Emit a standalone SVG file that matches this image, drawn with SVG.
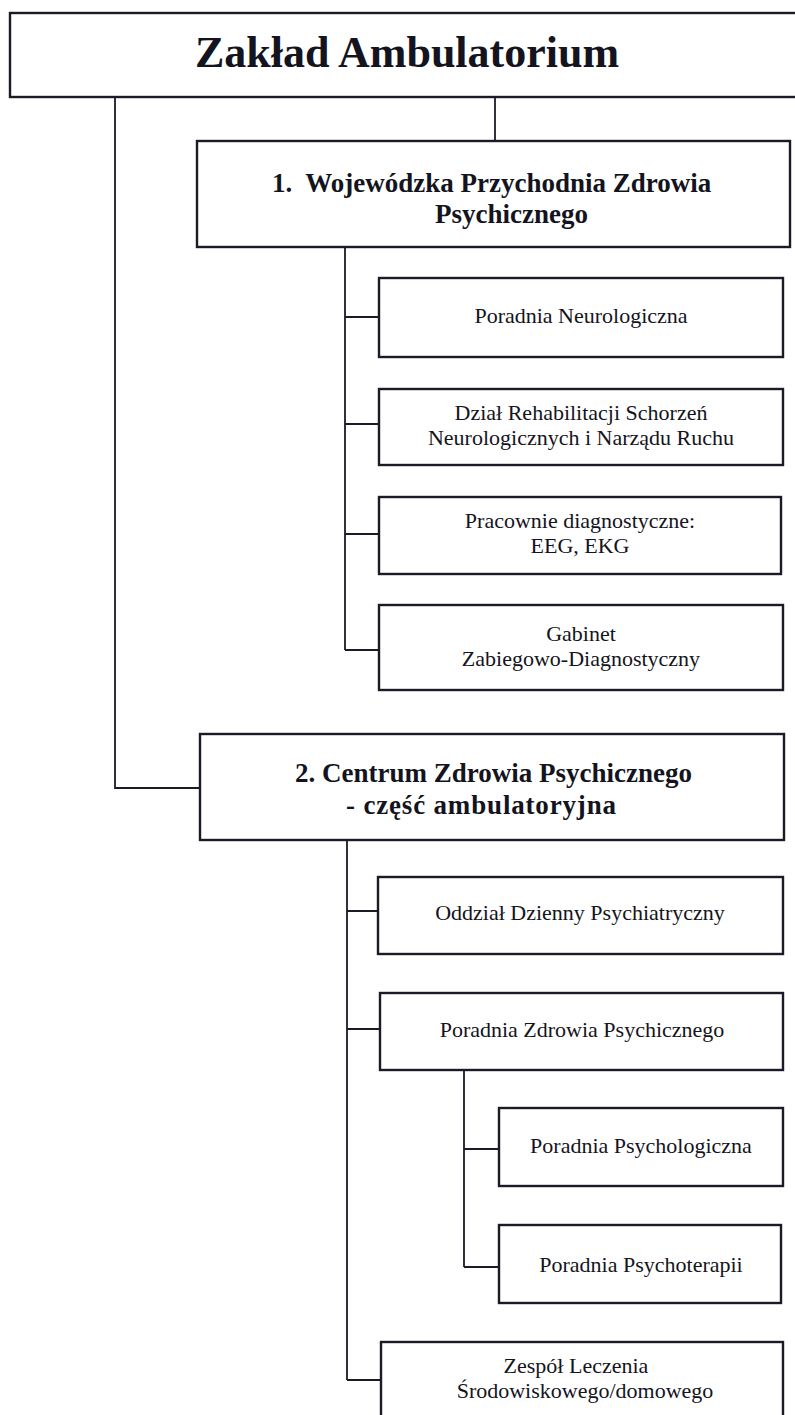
<svg xmlns="http://www.w3.org/2000/svg" width="795" height="1415" viewBox="0 0 795 1415">
<style>
.box{fill:#fff;stroke:#1b1b28;stroke-width:2.4}
.ln{fill:none;stroke:#1b1b28;stroke-width:1.8}
.t{font-family:"Liberation Serif","Times New Roman",serif;fill:#141420}
.h{font-weight:bold;font-size:27px}
.s{font-size:22px;text-anchor:middle}
</style>
<rect width="795" height="1415" fill="#fff"/>
<g id="connectors">
<path class="ln" d="M115,97 V788 H200"/>
<path class="ln" d="M495,97 V141"/>
<path class="ln" d="M345,247 V650 M345,317 H379 M345,424 H379 M345,534 H379 M345,650 H379"/>
<path class="ln" d="M347,840 V1380 M347,911 H378 M347,1029 H380 M347,1380 H381"/>
<path class="ln" d="M464,1070 V1267 M464,1149 H499 M464,1267 H499"/>
</g>
<g id="root">
<rect class="box" x="10" y="13" width="800" height="84"/>
<text class="t" x="407" y="67" font-size="44" font-weight="bold" text-anchor="middle">Zakład Ambulatorium</text>
</g>
<g id="n1">
<rect class="box" x="197" y="141" width="593" height="106"/>
<text class="t h" x="272" y="192" xml:space="preserve" style="white-space:pre">1.  Wojewódzka Przychodnia Zdrowia</text>
<text class="t h" x="435" y="223">Psychicznego</text>
</g>
<g id="n1a">
<rect class="box" x="379" y="278" width="404" height="79"/>
<text class="t s" x="581" y="323">Poradnia Neurologiczna</text>
</g>
<g id="n1b">
<rect class="box" x="379" y="389" width="404" height="76"/>
<text class="t s" x="581" y="420">Dział Rehabilitacji Schorzeń</text>
<text class="t s" x="581" y="445">Neurologicznych i Narządu Ruchu</text>
</g>
<g id="n1c">
<rect class="box" x="379" y="497" width="402" height="77"/>
<text class="t s" x="580" y="528">Pracownie diagnostyczne:</text>
<text class="t s" x="580" y="553">EEG, EKG</text>
</g>
<g id="n1d">
<rect class="box" x="379" y="605" width="404" height="85"/>
<text class="t s" x="581" y="641">Gabinet</text>
<text class="t s" x="581" y="666">Zabiegowo-Diagnostyczny</text>
</g>
<g id="n2">
<rect class="box" x="200" y="734" width="584" height="106"/>
<text class="t h" x="295" y="782">2. Centrum Zdrowia Psychicznego</text>
<text class="t h" x="346" y="814" textLength="270" lengthAdjust="spacing">- część ambulatoryjna</text>
</g>
<g id="n2a">
<rect class="box" x="378" y="877" width="405" height="77"/>
<text class="t s" x="580" y="920">Oddział Dzienny Psychiatryczny</text>
</g>
<g id="n2b">
<rect class="box" x="380" y="993" width="403" height="77"/>
<text class="t s" x="582" y="1037">Poradnia Zdrowia Psychicznego</text>
</g>
<g id="n2b1">
<rect class="box" x="499" y="1108" width="284" height="78"/>
<text class="t s" x="641" y="1153">Poradnia Psychologiczna</text>
</g>
<g id="n2b2">
<rect class="box" x="499" y="1225" width="282" height="78"/>
<text class="t s" x="641" y="1272">Poradnia Psychoterapii</text>
</g>
<g id="n2c">
<rect class="box" x="381" y="1342" width="402" height="80"/>
<text class="t s" x="576" y="1373">Zespół Leczenia</text>
<text class="t s" x="585" y="1398">Środowiskowego/domowego</text>
</g>
</svg>
